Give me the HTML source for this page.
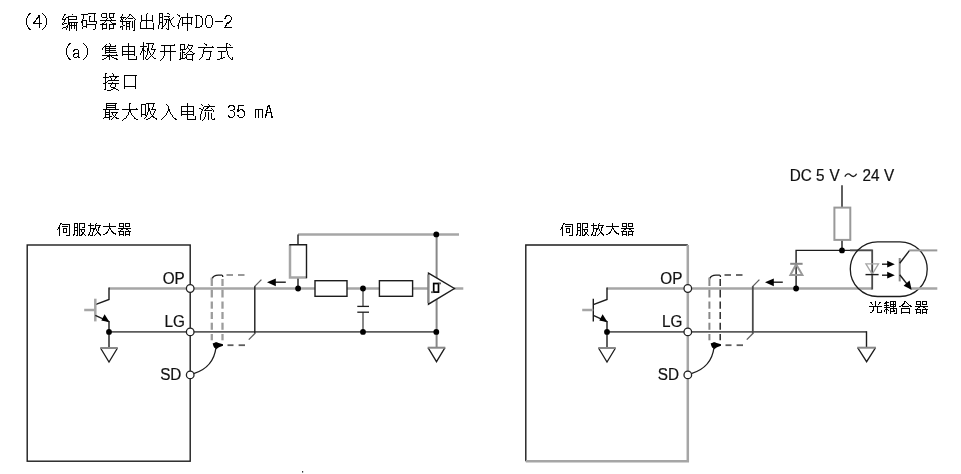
<!DOCTYPE html>
<html><head><meta charset="utf-8"><title>DO-2</title><style>
html,body{margin:0;padding:0;background:#fff}
svg{display:block}
.k{stroke:#1c1c1c;stroke-width:1.4;fill:none;stroke-linejoin:miter}
.g{stroke:#a6a6a6;stroke-width:2.5;fill:none}
.d{stroke:#5c5c5c;stroke-width:1.8;fill:none}
.thin{stroke-width:1.3}
.g2{stroke-width:2;stroke:#999}
.g3{stroke-width:2;stroke:#888}
.gd{stroke-width:2.3;stroke:#9c9c9c}
.d2{stroke:#4a4a4a;stroke-width:1.8;fill:none}
.f{fill:#000;stroke:none}
.w{fill:#fff;stroke:none}
.w2{fill:#fff}
.ring{fill:#fff;stroke:#222;stroke-width:1.3}
.t{font-family:"Liberation Sans",sans-serif;font-size:15px;fill:#111;stroke:#111;stroke-width:.2px}
.bm{fill:#000;stroke:none;shape-rendering:crispEdges}
</style></head><body>
<svg style="will-change:transform" width="961" height="474" viewBox="0 0 961 474">
<rect width="961" height="474" fill="#fff"/>
<defs><path id="b0" d="M3 -11h1v7h-1zM4 -13h1v2h-1zM4 -4h1v2h-1zM5 -14h1v1h-1zM5 -2h1v1h-1zM5 -15h2v1h-2zM5 -1h2v1h-2zM6 -16h2v1h-2zM6 0h2v1h-2z"/><path id="b1" d="M0 -7h2v1h-2zM0 -6h9v1h-9zM1 -8h2v1h-2zM2 -9h1v1h-1zM3 -10h1v1h-1zM3 -11h2v1h-2zM4 -12h3v1h-3zM5 -14h2v2h-2zM6 -11h1v5h-1zM6 -5h1v4h-1z"/><path id="b2" d="M2 -16h1v1h-1zM2 0h1v1h-1zM3 -15h1v1h-1zM3 -1h1v1h-1zM4 -14h1v1h-1zM4 -2h1v1h-1zM5 -13h1v2h-1zM5 -4h1v2h-1zM6 -11h1v7h-1z"/><path id="b3" d="M1 -14h5v1h-5zM1 -2h5v1h-5zM2 -13h1v11h-1zM6 -13h2v1h-2zM6 -3h2v1h-2zM7 -12h1v1h-1zM7 -4h1v1h-1zM8 -11h1v7h-1z"/><path id="b4" d="M1 -11h1v7h-1zM2 -13h1v2h-1zM2 -4h1v2h-1zM3 -14h4v1h-4zM3 -2h4v1h-4zM7 -13h1v2h-1zM7 -4h1v2h-1zM8 -11h1v7h-1z"/><path id="b5" d="M1 -8h8v1h-8z"/><path id="b6" d="M1 -11h2v1h-2zM1 -2h8v1h-8zM2 -12h1v1h-1zM2 -3h1v1h-1zM2 -13h2v1h-2zM2 -4h2v1h-2zM3 -5h1v1h-1zM3 -6h3v1h-3zM3 -14h4v1h-4zM4 -7h3v1h-3zM6 -8h2v1h-2zM7 -13h1v1h-1zM7 -9h1v1h-1zM8 -12h1v3h-1z"/><path id="b7" d="M1 -11h1v1h-1zM1 -6h1v1h-1zM1 -1h1v1h-1zM1 -5h2v1h-2zM1 -10h4v1h-4zM2 -13h1v2h-1zM2 -7h1v1h-1zM2 -2h3v1h-3zM3 -14h1v1h-1zM3 -9h1v2h-1zM3 -15h2v1h-2zM3 -6h3v1h-3zM4 -11h1v1h-1zM5 -1h1v2h-1zM5 -3h2v1h-2zM5 -12h3v1h-3zM6 -4h1v1h-1zM6 -2h1v1h-1zM7 -11h1v1h-1zM7 -9h1v2h-1zM7 -6h2v2h-2zM7 -13h9v1h-9zM7 -10h9v1h-9zM7 -7h10v1h-10zM8 -3h1v5h-1zM8 -4h8v1h-8zM10 -6h1v2h-1zM10 -3h1v3h-1zM11 -15h1v1h-1zM13 -6h1v2h-1zM13 -3h1v3h-1zM15 -12h1v2h-1zM15 -6h1v2h-1zM15 -3h1v5h-1z"/><path id="b8" d="M1 -8h2v2h-2zM1 -15h7v1h-7zM2 -10h1v1h-1zM2 -6h1v3h-1zM2 -2h1v2h-1zM2 -9h5v1h-5zM3 -14h1v4h-1zM3 -3h4v1h-4zM6 -8h1v3h-1zM6 -4h1v1h-1zM6 -2h1v1h-1zM6 -5h10v1h-10zM8 -16h8v1h-8zM9 -12h1v4h-1zM9 -13h2v1h-2zM9 -8h8v1h-8zM13 0h2v1h-2zM14 -15h1v7h-1zM15 -4h1v4h-1zM16 -7h1v2h-1z"/><path id="b9" d="M1 -5h7v1h-7zM1 -9h16v1h-16zM2 -15h1v3h-1zM3 -4h1v3h-1zM3 0h1v1h-1zM3 -6h2v1h-2zM3 -16h5v1h-5zM3 -12h5v1h-5zM3 -1h5v1h-5zM5 -7h1v1h-1zM6 -8h1v1h-1zM7 -15h1v3h-1zM7 -10h1v1h-1zM7 -6h1v1h-1zM7 -4h1v3h-1zM8 -11h1v1h-1zM10 -15h1v3h-1zM10 -4h1v3h-1zM10 0h1v1h-1zM10 -12h5v1h-5zM10 -1h5v1h-5zM10 -16h6v1h-6zM10 -5h7v1h-7zM11 -11h1v1h-1zM11 -8h1v1h-1zM12 -10h1v1h-1zM12 -7h1v1h-1zM13 -6h4v1h-4zM14 -15h1v3h-1zM14 -4h1v3h-1z"/><path id="b10" d="M1 -9h1v1h-1zM1 -2h1v1h-1zM1 -3h3v1h-3zM1 -12h6v1h-6zM1 -8h11v1h-11zM2 -13h1v1h-1zM2 -11h1v1h-1zM2 -10h2v1h-2zM3 -15h1v2h-1zM3 -9h1v1h-1zM3 -7h1v3h-1zM3 -2h1v3h-1zM4 -11h1v1h-1zM4 -4h2v1h-2zM6 -10h1v1h-1zM7 -11h1v1h-1zM7 -7h1v1h-1zM7 -5h1v2h-1zM7 -2h1v3h-1zM7 -6h4v1h-4zM7 -3h4v1h-4zM8 -12h1v1h-1zM9 -13h1v1h-1zM9 -11h5v1h-5zM10 -14h1v1h-1zM10 -7h1v1h-1zM10 -5h1v2h-1zM10 -2h1v3h-1zM10 -15h2v1h-2zM12 -14h1v1h-1zM13 -13h1v1h-1zM13 -8h1v7h-1zM14 -12h1v1h-1zM14 1h2v1h-2zM15 -11h1v1h-1zM15 -9h1v10h-1zM16 -10h1v1h-1z"/><path id="b11" d="M2 -7h1v6h-1zM2 -1h14v1h-14zM3 -14h1v5h-1zM3 -8h1v1h-1zM3 -9h12v1h-12zM8 -15h1v6h-1zM8 -8h1v7h-1zM9 -16h1v1h-1zM14 -14h1v5h-1zM14 -8h1v1h-1zM15 -6h1v5h-1zM15 0h1v1h-1z"/><path id="b12" d="M1 -4h1v4h-1zM2 -15h1v3h-1zM2 -11h1v4h-1zM2 -6h1v2h-1zM2 -16h4v1h-4zM2 -12h4v1h-4zM2 -7h4v1h-4zM4 -1h2v1h-2zM5 -15h1v3h-1zM5 -11h1v4h-1zM5 -6h1v3h-1zM5 -2h1v1h-1zM5 -3h2v1h-2zM7 -4h1v1h-1zM7 -13h6v1h-6zM7 -10h6v1h-6zM8 -6h1v2h-1zM9 -9h1v3h-1zM9 -1h1v1h-1zM10 -16h2v1h-2zM10 0h2v1h-2zM11 -12h1v1h-1zM11 -8h1v8h-1zM11 -9h3v1h-3zM12 -15h1v1h-1zM12 -11h1v1h-1zM13 -8h1v2h-1zM14 -10h1v1h-1zM14 -6h1v2h-1zM15 -11h1v1h-1zM15 -4h1v1h-1zM16 -12h1v1h-1zM16 -3h2v1h-2z"/><path id="b13" d="M1 -15h1v1h-1zM1 -4h2v1h-2zM2 -6h1v2h-1zM2 -3h1v3h-1zM2 -14h2v1h-2zM3 -13h1v1h-1zM3 -9h1v3h-1zM4 -11h1v2h-1zM5 -12h12v1h-12zM6 -11h1v5h-1zM6 -5h1v2h-1zM6 -6h10v1h-10zM11 -16h1v4h-1zM11 -11h1v5h-1zM11 -5h1v7h-1zM15 -11h1v5h-1zM15 -5h1v1h-1z"/><path id="b14" d="M2 -8h1v1h-1zM2 -4h1v2h-1zM2 -9h2v1h-2zM2 -5h2v1h-2zM3 -2h3v1h-3zM3 -10h4v1h-4zM3 -6h5v1h-5zM6 -3h2v1h-2zM7 -9h1v3h-1zM7 -5h1v2h-1zM7 -2h2v1h-2z"/><path id="b15" d="M1 -11h1v2h-1zM1 0h2v1h-2zM1 -4h16v1h-16zM2 -12h1v1h-1zM3 -1h2v1h-2zM3 -13h12v1h-12zM4 -14h1v1h-1zM4 -12h1v1h-1zM4 -10h1v1h-1zM4 -8h1v1h-1zM4 -6h1v1h-1zM4 -11h11v1h-11zM4 -9h11v1h-11zM4 -7h12v1h-12zM5 -15h1v1h-1zM5 -2h1v1h-1zM6 -3h3v1h-3zM8 -16h1v1h-1zM8 -12h1v1h-1zM8 -10h1v1h-1zM8 -8h1v1h-1zM8 -5h1v1h-1zM8 -2h1v3h-1zM9 -15h1v2h-1zM10 -3h1v1h-1zM11 -2h2v1h-2zM13 -1h3v1h-3zM14 -14h1v1h-1zM15 -5h1v1h-1zM15 0h2v1h-2z"/><path id="b16" d="M2 -12h1v4h-1zM2 -7h1v2h-1zM2 -4h1v1h-1zM2 -13h13v1h-13zM2 -8h13v1h-13zM2 -5h13v1h-13zM8 -16h1v3h-1zM8 -12h1v4h-1zM8 -7h1v2h-1zM8 -4h1v4h-1zM8 0h9v1h-9zM14 -12h1v4h-1zM14 -7h1v2h-1zM14 -4h1v1h-1zM16 -3h1v3h-1z"/><path id="b17" d="M1 -6h1v2h-1zM1 -13h7v1h-7zM2 -8h1v2h-1zM3 -11h2v2h-2zM3 -9h3v1h-3zM4 -17h1v4h-1zM4 -12h1v1h-1zM4 -8h1v9h-1zM6 -8h1v1h-1zM6 -2h1v2h-1zM7 -4h1v2h-1zM7 0h2v1h-2zM7 -16h8v1h-8zM8 -8h1v4h-1zM8 -11h2v3h-2zM9 -15h1v4h-1zM9 -1h1v1h-1zM10 -8h1v2h-1zM10 -2h1v1h-1zM11 -6h1v2h-1zM11 -3h1v1h-1zM12 -11h1v1h-1zM12 -4h1v1h-1zM12 -10h5v1h-5zM13 -14h1v3h-1zM13 -5h1v1h-1zM13 -3h1v1h-1zM14 -15h1v1h-1zM14 -7h1v2h-1zM14 -2h1v1h-1zM15 -9h1v2h-1zM15 -1h2v1h-2z"/><path id="b18" d="M1 1h1v1h-1zM1 -8h16v1h-16zM2 0h1v1h-1zM2 -14h14v1h-14zM3 -1h1v1h-1zM4 -3h1v2h-1zM5 -13h1v5h-1zM5 -7h1v4h-1zM11 -13h1v5h-1zM11 -7h1v9h-1zM15 -15h1v1h-1z"/><path id="b19" d="M1 0h2v1h-2zM2 -14h1v4h-1zM2 -9h1v1h-1zM2 -7h1v6h-1zM2 -15h5v1h-5zM2 -1h5v1h-5zM2 -10h6v1h-6zM4 -9h1v2h-1zM4 -6h1v5h-1zM4 -7h3v1h-3zM6 -14h1v4h-1zM6 -5h2v1h-2zM7 -2h2v1h-2zM8 -11h1v1h-1zM8 -6h1v1h-1zM8 -4h1v2h-1zM8 -1h1v1h-1zM9 -13h1v2h-1zM9 -7h1v1h-1zM9 0h6v1h-6zM9 -5h7v1h-7zM10 -15h1v1h-1zM10 -11h1v1h-1zM10 -8h1v1h-1zM10 -14h5v1h-5zM11 -9h1v1h-1zM11 -10h2v1h-2zM12 -8h2v1h-2zM13 -12h1v2h-1zM14 -13h1v1h-1zM14 -7h1v1h-1zM14 -4h1v4h-1zM14 1h1v1h-1zM15 -6h2v1h-2z"/><path id="b20" d="M1 -12h16v1h-16zM2 0h1v1h-1zM3 -1h1v1h-1zM4 -2h1v1h-1zM5 -5h1v3h-1zM6 -10h1v2h-1zM6 -7h1v2h-1zM6 -8h9v1h-9zM7 -16h1v1h-1zM7 -11h1v1h-1zM8 -15h2v1h-2zM9 -14h1v1h-1zM9 0h4v1h-4zM12 -2h1v2h-1zM13 -7h1v5h-1zM15 -13h1v1h-1z"/><path id="b21" d="M1 0h3v1h-3zM1 -12h16v1h-16zM2 -8h8v1h-8zM4 -1h3v1h-3zM5 -7h1v6h-1zM7 -2h2v1h-2zM10 -15h1v3h-1zM10 -11h1v3h-1zM10 -16h2v1h-2zM11 -8h1v4h-1zM12 -4h1v2h-1zM13 -15h1v1h-1zM13 -2h1v1h-1zM14 -14h1v1h-1zM14 -1h1v1h-1zM15 0h2v1h-2zM16 -2h1v2h-1z"/><path id="b22" d="M1 -6h3v1h-3zM1 -12h6v1h-6zM2 0h2v1h-2zM3 -15h1v3h-1zM3 -11h1v4h-1zM3 -5h1v5h-1zM3 -16h2v1h-2zM3 -7h2v1h-2zM5 -8h1v1h-1zM5 1h4v1h-4zM6 -9h11v1h-11zM6 -6h11v1h-11zM7 -13h10v1h-10zM8 -12h1v1h-1zM8 -4h1v2h-1zM9 -11h1v2h-1zM9 -5h1v1h-1zM9 0h2v1h-2zM9 -2h4v1h-4zM10 -16h1v1h-1zM10 -7h1v1h-1zM11 -15h1v2h-1zM11 -1h3v1h-3zM12 -10h1v1h-1zM13 -11h1v1h-1zM13 -5h1v3h-1zM13 -12h2v1h-2zM14 0h2v1h-2zM16 1h1v1h-1z"/><path id="b23" d="M3 -13h1v10h-1zM3 -2h1v2h-1zM3 -3h12v1h-12zM3 -14h13v1h-13zM14 -13h1v10h-1zM14 -2h1v2h-1z"/><path id="b24" d="M1 -1h1v1h-1zM1 -10h16v1h-16zM2 -2h6v1h-6zM3 -9h1v2h-1zM3 -6h1v1h-1zM3 -4h1v2h-1zM3 -7h5v1h-5zM3 -5h5v1h-5zM4 -15h1v1h-1zM4 -13h1v1h-1zM4 -11h1v1h-1zM4 -14h10v1h-10zM4 -12h10v1h-10zM4 -16h11v1h-11zM7 -9h1v2h-1zM7 -6h1v1h-1zM7 -4h1v1h-1zM7 -1h1v2h-1zM7 -3h3v1h-3zM9 0h1v1h-1zM9 -7h7v1h-7zM10 -6h1v2h-1zM10 -1h1v1h-1zM11 -4h1v1h-1zM11 -2h1v1h-1zM12 -3h1v1h-1zM13 -15h1v1h-1zM13 -13h1v1h-1zM13 -11h1v1h-1zM13 -5h1v2h-1zM13 -2h2v1h-2zM14 -6h1v1h-1zM14 -1h3v1h-3z"/><path id="b25" d="M1 1h1v1h-1zM1 -10h16v1h-16zM2 0h1v1h-1zM3 -1h2v1h-2zM5 -3h1v2h-1zM6 -4h1v1h-1zM7 -7h1v3h-1zM8 -15h1v5h-1zM8 -16h2v1h-2zM8 -9h2v2h-2zM9 -7h1v1h-1zM10 -6h1v2h-1zM11 -4h1v1h-1zM12 -3h1v1h-1zM13 -2h1v1h-1zM13 -1h2v1h-2zM15 -11h1v1h-1zM15 0h2v1h-2z"/><path id="b26" d="M1 -14h1v9h-1zM1 -4h1v2h-1zM1 -15h5v1h-5zM1 -5h5v1h-5zM4 -1h1v1h-1zM5 -14h1v9h-1zM5 -2h1v1h-1zM5 -4h2v1h-2zM6 -3h1v1h-1zM6 0h2v1h-2zM6 -16h9v1h-9zM7 -7h1v3h-1zM8 -15h1v4h-1zM8 -8h1v1h-1zM8 -11h2v3h-2zM8 -1h2v1h-2zM10 -8h1v3h-1zM10 -2h1v1h-1zM11 -5h1v1h-1zM11 -3h3v1h-3zM11 -10h5v1h-5zM12 -12h1v2h-1zM12 -4h1v1h-1zM13 -15h1v3h-1zM13 -6h1v2h-1zM13 -2h2v1h-2zM14 -8h1v2h-1zM15 -9h1v1h-1zM15 -1h2v1h-2zM16 0h1v1h-1z"/><path id="b27" d="M1 0h1v1h-1zM2 -1h1v1h-1zM3 -2h1v1h-1zM4 -3h1v1h-1zM5 -4h1v1h-1zM6 -15h1v1h-1zM6 -6h1v2h-1zM7 -14h1v1h-1zM7 -8h1v2h-1zM8 -13h1v3h-1zM8 -10h2v2h-2zM9 -8h1v1h-1zM10 -7h1v2h-1zM11 -5h1v1h-1zM12 -4h1v2h-1zM13 -2h1v1h-1zM14 -1h2v1h-2zM15 0h2v1h-2z"/><path id="b28" d="M1 -11h2v1h-2zM2 -5h1v6h-1zM3 -15h1v1h-1zM3 -8h1v3h-1zM3 -10h2v1h-2zM4 -14h1v1h-1zM4 -9h1v1h-1zM4 1h1v1h-1zM5 -12h1v2h-1zM5 0h1v1h-1zM6 -2h1v2h-1zM6 -9h8v1h-8zM6 -13h11v1h-11zM7 -10h1v1h-1zM7 -7h1v5h-1zM8 -11h2v1h-2zM9 -12h2v1h-2zM10 -15h1v1h-1zM10 -7h1v8h-1zM11 -14h1v1h-1zM13 -11h1v1h-1zM13 -6h1v6h-1zM14 -10h1v1h-1zM14 0h3v1h-3zM15 -9h1v2h-1zM16 -1h1v1h-1z"/><path id="b29" d="M1 -12h1v1h-1zM1 -4h1v1h-1zM1 -13h2v1h-2zM1 -3h2v1h-2zM2 -2h4v1h-4zM2 -14h5v1h-5zM3 -9h3v1h-3zM6 -8h1v1h-1zM6 -3h1v1h-1zM6 -13h2v1h-2zM6 -10h2v1h-2zM7 -12h1v2h-1zM7 -7h1v4h-1z"/><path id="b30" d="M1 -10h2v1h-2zM1 -8h2v1h-2zM1 -4h2v1h-2zM1 -9h3v1h-3zM2 -13h1v3h-1zM2 -3h1v1h-1zM2 -14h6v1h-6zM3 -2h4v1h-4zM4 -10h3v1h-3zM6 -9h2v1h-2zM7 -3h1v1h-1zM7 -8h2v1h-2zM8 -7h1v4h-1z"/><path id="b31" d="M1 -9h1v8h-1zM1 -10h8v1h-8zM4 -9h1v8h-1zM8 -9h1v8h-1z"/><path id="b32" d="M1 -3h1v2h-1zM1 -5h2v2h-2zM2 -8h1v1h-1zM2 -6h1v1h-1zM2 -9h2v1h-2zM2 -7h6v1h-6zM3 -12h1v3h-1zM3 -13h3v1h-3zM4 -14h2v1h-2zM5 -12h1v1h-1zM5 -11h2v1h-2zM6 -10h1v3h-1zM7 -6h1v3h-1zM7 -3h2v2h-2z"/><path id="b33" d="M0 -6h1v1h-1zM1 -8h2v2h-2zM2 -10h1v2h-1zM2 -6h1v7h-1zM3 -11h1v1h-1zM3 -12h2v1h-2zM5 -9h6v1h-6zM5 -11h8v1h-8zM6 -6h1v3h-1zM6 -7h4v1h-4zM6 -3h4v1h-4zM9 -6h1v3h-1zM9 0h4v1h-4zM12 -10h1v10h-1z"/><path id="b34" d="M1 0h1v1h-1zM1 -1h2v1h-2zM2 -11h1v3h-1zM2 -7h1v2h-1zM2 -4h1v3h-1zM2 -12h4v1h-4zM2 -8h4v1h-4zM2 -5h4v1h-4zM4 0h2v1h-2zM5 -11h1v3h-1zM5 -7h1v2h-1zM5 -4h1v4h-1zM7 -11h1v5h-1zM7 -5h1v5h-1zM7 0h3v1h-3zM7 -12h6v1h-6zM7 -6h6v1h-6zM9 -5h1v2h-1zM9 -1h2v1h-2zM10 -3h2v2h-2zM10 -8h3v1h-3zM12 -11h1v3h-1zM12 -5h1v2h-1zM12 -1h1v1h-1zM13 0h1v1h-1z"/><path id="b35" d="M1 0h1v1h-1zM1 -1h2v1h-2zM1 -10h6v1h-6zM2 -3h1v2h-1zM3 -12h1v2h-1zM3 -9h1v2h-1zM3 -6h1v3h-1zM3 0h3v1h-3zM3 -7h6v1h-6zM5 -3h1v3h-1zM6 -5h1v2h-1zM6 -6h2v1h-2zM7 0h1v1h-1zM8 -11h1v1h-1zM8 -9h1v2h-1zM8 -1h1v1h-1zM8 -10h6v1h-6zM9 -12h1v1h-1zM9 -6h1v2h-1zM9 -2h1v1h-1zM10 -4h1v1h-1zM10 -3h2v1h-2zM11 -7h1v3h-1zM11 -8h2v1h-2zM11 -2h2v1h-2zM12 -9h1v1h-1zM12 -1h2v1h-2zM13 0h1v1h-1z"/><path id="b36" d="M1 -1h2v1h-2zM1 -9h13v1h-13zM3 -2h2v1h-2zM4 -3h2v1h-2zM5 -4h1v1h-1zM6 -6h1v2h-1zM7 -12h1v3h-1zM7 -8h1v1h-1zM7 -7h2v1h-2zM8 -6h1v1h-1zM9 -5h1v1h-1zM9 -4h2v1h-2zM10 -3h2v1h-2zM11 -2h3v1h-3zM13 -1h1v1h-1z"/><path id="b37" d="M1 -4h6v1h-6zM1 -7h13v1h-13zM2 -11h1v2h-1zM2 -3h1v2h-1zM2 0h1v1h-1zM2 -12h5v1h-5zM2 -9h5v1h-5zM2 -1h5v1h-5zM3 -5h1v1h-1zM4 -6h2v1h-2zM6 -11h1v2h-1zM6 -8h1v1h-1zM6 -3h1v2h-1zM6 0h1v1h-1zM8 -11h1v2h-1zM8 -3h1v2h-1zM8 0h1v1h-1zM8 -12h5v1h-5zM8 -9h5v1h-5zM8 -1h5v1h-5zM8 -4h6v1h-6zM9 -6h2v1h-2zM11 -5h1v1h-1zM12 -11h1v2h-1zM12 -3h1v2h-1zM12 0h1v1h-1z"/><path id="b38" d="M1 -7h13v1h-13zM2 -11h2v1h-2zM2 -1h2v1h-2zM3 -10h1v1h-1zM4 -9h1v1h-1zM4 -2h1v1h-1zM4 -3h2v1h-2zM5 -6h1v3h-1zM7 -12h1v5h-1zM9 -6h1v5h-1zM9 -1h5v1h-5zM10 -9h1v1h-1zM11 -10h1v1h-1zM11 -11h2v1h-2zM13 -3h1v2h-1z"/><path id="b39" d="M1 -3h1v2h-1zM1 -10h3v1h-3zM1 -8h5v1h-5zM1 -6h6v1h-6zM2 -4h3v1h-3zM2 -11h4v1h-4zM3 -12h1v1h-1zM3 -9h1v1h-1zM3 -7h1v1h-1zM3 -5h1v1h-1zM3 -3h1v4h-1zM5 -3h1v1h-1zM7 -11h1v2h-1zM7 -8h1v1h-1zM7 -4h1v2h-1zM7 -1h1v2h-1zM7 -2h5v1h-5zM7 -12h6v1h-6zM7 -9h6v1h-6zM7 -7h6v1h-6zM7 -5h7v1h-7zM10 -11h1v2h-1zM10 -8h1v1h-1zM10 -6h1v1h-1zM10 -4h1v1h-1zM10 -3h2v1h-2zM11 0h3v1h-3zM12 -11h1v2h-1zM12 -8h1v1h-1zM13 -4h1v4h-1z"/><path id="b40" d="M1 -7h2v1h-2zM3 -4h1v3h-1zM3 0h1v1h-1zM3 -8h2v1h-2zM3 -5h9v1h-9zM3 -1h9v1h-9zM4 -9h2v1h-2zM4 -7h7v1h-7zM5 -10h2v1h-2zM6 -11h1v1h-1zM6 -12h2v1h-2zM8 -11h1v1h-1zM9 -10h1v1h-1zM10 -9h1v1h-1zM11 -4h1v3h-1zM11 0h1v1h-1zM11 -8h2v1h-2zM12 -7h2v1h-2z"/></defs>
<g class="bm"><title>(4) 编码器输出脉冲DO-2</title>
<use href="#b0" x="23" y="29"/>
<use href="#b1" x="33" y="29"/>
<use href="#b2" x="40" y="29"/>
<use href="#b3" x="194" y="29"/>
<use href="#b4" x="204" y="29"/>
<use href="#b5" x="214" y="29"/>
<use href="#b6" x="223" y="29"/>
<use href="#b7" x="61" y="29"/>
<use href="#b8" x="80" y="29"/>
<use href="#b9" x="99" y="29"/>
<use href="#b10" x="119" y="29"/>
<use href="#b11" x="138" y="29"/>
<use href="#b12" x="157" y="29"/>
<use href="#b13" x="176" y="29"/>
</g><g class="bm"><title>(a) 集电极开路方式</title>
<use href="#b0" x="63" y="59"/>
<use href="#b14" x="71" y="59"/>
<use href="#b2" x="81" y="59"/>
<use href="#b15" x="101" y="59"/>
<use href="#b16" x="120" y="59"/>
<use href="#b17" x="139" y="59"/>
<use href="#b18" x="159" y="59"/>
<use href="#b19" x="178" y="59"/>
<use href="#b20" x="197" y="59"/>
<use href="#b21" x="216" y="59"/>
</g><g class="bm"><title>接口</title>
<use href="#b22" x="102" y="89"/>
<use href="#b23" x="121" y="89"/>
</g><g class="bm"><title>最大吸入电流 35 mA</title>
<use href="#b24" x="102" y="119"/>
<use href="#b25" x="121" y="119"/>
<use href="#b26" x="140" y="119"/>
<use href="#b27" x="160" y="119"/>
<use href="#b16" x="179" y="119"/>
<use href="#b28" x="198" y="119"/>
<use href="#b29" x="227" y="119"/>
<use href="#b30" x="236" y="119"/>
<use href="#b31" x="254" y="119"/>
<use href="#b32" x="264" y="119"/>
</g>
<rect class="k" x="27.2" y="245" width="163" height="216.2" fill="none"/>
<g class="bm"><title>伺服放大器</title>
<use href="#b33" x="57" y="235"/>
<use href="#b34" x="72" y="235"/>
<use href="#b35" x="87" y="235"/>
<use href="#b36" x="102" y="235"/>
<use href="#b37" x="117" y="235"/>
</g>
<path class="g" d="M190.2 288.5L428.5 288.5"/>
<path class="g" d="M454.0 288.5L463.3 288.5"/>
<path class="g" d="M298.0 234.4L459.0 234.4"/>
<path class="g g3" d="M436.6 234.4L436.6 347.7"/>
<path class="d" d="M190.2 331.9L436.6 331.9"/>
<path class="g" d="M109.0 288.5L190.2 288.5"/>
<path class="k" d="M109.0 287.5L109.0 299.5L95.3 304.6"/>
<path class="g" d="M95.3 298.7L95.3 321.4"/>
<path class="g" d="M84.2 310.0L95.3 310.0"/>
<path class="k" d="M95.3 315.4L109.0 321.6"/>
<path class="f" d="M109.6 322.2L101.3 320.6L104.6 314.3Z"/>
<path class="k" d="M109.0 321.0L109.0 348.0"/>
<path class="d" d="M109.0 331.9L190.2 331.9"/>
<circle class="f" cx="109.0" cy="331.9" r="2.9"/>
<path class="k thin" d="M100.5 348.0L109.0 362.0L117.5 348.0"/>
<path class="g g3" d="M100.2 348.0L117.8 348.0"/>
<path class="g gd" d="M211.8 279.0L211.8 286.0"/>
<path class="g gd" d="M211.8 289.7L211.8 297.5"/>
<path class="g gd" d="M211.8 301.5L211.8 308.7"/>
<path class="g gd" d="M211.8 312.0L211.8 319.0"/>
<path class="g gd" d="M211.8 322.7L211.8 329.8"/>
<path class="g gd" d="M211.8 334.0L211.8 340.3"/>
<path class="g gd" d="M222.5 279.0L222.5 286.0"/>
<path class="g gd" d="M222.5 289.7L222.5 297.5"/>
<path class="g gd" d="M222.5 301.5L222.5 308.7"/>
<path class="g gd" d="M222.5 312.0L222.5 319.0"/>
<path class="g gd" d="M222.5 322.7L222.5 329.8"/>
<path class="g gd" d="M222.5 334.0L222.5 340.3"/>
<path class="g" d="M211.8 279.5L211.8 277.6"/>
<path class="k" d="M212.4 278.2C213.4 275.6 215.8 275.1 218.3 275.1L221.9 275.1Q222.8 275.1 222.8 277"/>
<path class="g g2" d="M226.5 275.0L233.0 275.0"/>
<path class="g g2" d="M238.0 275.0L244.5 275.0"/>
<path class="d" d="M227.5 345.2L233.5 345.2"/>
<path class="d" d="M238.6 345.2L245.0 345.2"/>
<circle class="f" cx="216.4" cy="345.3" r="2.7"/>
<path class="f" d="M212.6 343.4L216.0 342.3L223.0 344.3L223.0 345.7L218.4 347.6L216.4 349.2L214.0 347.2Z"/>
<path class="k thin" d="M216.0 347.5Q213.5 367.5 193.7 373.6"/>
<path class="k" d="M254.8 286.0L254.8 333.8"/>
<path class="d thin" d="M261.4 279.6L254.5 286.6"/>
<path class="d thin" d="M255.1 333.2L248.8 339.6"/>
<path class="k" d="M274.5 282.2L285.8 282.2"/>
<path class="f" d="M267.0 282.2L275.8 278.4L275.8 286.2Z"/>
<circle class="ring" cx="190.2" cy="288.5" r="3.8"/>
<circle class="ring" cx="190.2" cy="331.9" r="3.8"/>
<circle class="ring" cx="190.2" cy="374.9" r="3.8"/>
<text class="t" text-anchor="end" transform="translate(184.8,284.1) scale(1.02,1.04)">OP</text>
<text class="t" text-anchor="end" transform="translate(184.8,327.0) scale(1.02,1.04)">LG</text>
<text class="t" text-anchor="end" transform="translate(181.4,380.0) scale(1.02,1.04)">SD</text>
<path class="k" d="M298.0 234.4L298.0 245.0"/>
<path class="k" d="M298.0 277.5L298.0 288.5"/>
<rect class="w" x="290" y="244.7" width="16.5" height="32.9"/>
<path class="g" d="M290.0 244.7L290.0 277.6L306.5 277.6"/>
<path class="k" d="M289.3 244.7L306.5 244.7L306.5 278.3"/>
<circle class="f" cx="298.1" cy="288.5" r="2.9"/>
<rect class="k w2" x="315.0" y="280.7" width="32.0" height="15.6"/>
<rect class="k w2" x="379.4" y="280.7" width="33.2" height="15.6"/>
<path class="g g3" d="M363.0 288.5L363.0 306.4"/>
<path class="g g3" d="M363.0 312.2L363.0 331.9"/>
<path class="k thin" d="M357.3 306.4L369.0 306.4"/>
<path class="k thin" d="M357.3 312.2L369.0 312.2"/>
<circle class="f" cx="363.0" cy="288.5" r="2.9"/>
<circle class="f" cx="363.0" cy="331.9" r="2.9"/>
<path class="k w2" d="M428.5 273.2L454.4 288.5L428.5 304.2Z"/>
<path class="g g3" d="M428.3 274.5L428.3 303.0"/>
<rect class="k" style="stroke-width:1.7;stroke:#000" fill="none" x="433.7" y="283.5" width="4.8" height="8.6"/>
<path class="d" d="M431.0 292.2L433.6 292.2"/>
<path class="d" d="M438.6 283.4L441.0 283.4"/>
<circle class="f" cx="436.3" cy="234.4" r="2.9"/>
<circle class="f" cx="436.3" cy="331.9" r="2.9"/>
<path class="k thin" d="M428.0 347.7L436.5 361.7L445.0 347.7"/>
<path class="g g3" d="M427.7 347.7L445.3 347.7"/>
<rect x="302" y="471" width="1.2" height="1.6" fill="#333"/>
<path class="k" d="M525.8 461.2L525.8 245.0L687.8 245.0"/>
<path class="g" d="M525.8 461.2L687.8 461.2L687.8 245.0"/>
<g class="bm"><title>伺服放大器</title>
<use href="#b33" x="560" y="235"/>
<use href="#b34" x="575" y="235"/>
<use href="#b35" x="590" y="235"/>
<use href="#b36" x="605" y="235"/>
<use href="#b37" x="620" y="235"/>
</g>
<path class="g" d="M687.8 288.5L872.2 288.5"/>
<path class="d" d="M687.8 331.9L866.5 331.9"/>
<path class="g" d="M607.0 288.5L687.8 288.5"/>
<path class="k" d="M607.0 287.5L607.0 299.5L593.3 304.6"/>
<path class="k" d="M593.3 298.7L593.3 321.4"/>
<path class="g" d="M582.2 310.0L593.3 310.0"/>
<path class="k" d="M593.3 315.4L607.0 321.6"/>
<path class="f" d="M607.6 322.2L599.3 320.6L602.6 314.3Z"/>
<path class="k" d="M607.0 321.0L607.0 348.0"/>
<path class="d" d="M607.0 331.9L687.8 331.9"/>
<circle class="f" cx="607.0" cy="331.9" r="2.9"/>
<path class="k thin" d="M598.5 348.0L607.0 362.0L615.5 348.0"/>
<path class="g g3" d="M598.2 348.0L615.8 348.0"/>
<path class="g g3" d="M709.4 279.0L709.4 286.0"/>
<path class="g g3" d="M709.4 289.7L709.4 297.5"/>
<path class="g g3" d="M709.4 301.5L709.4 308.7"/>
<path class="g g3" d="M709.4 312.0L709.4 319.0"/>
<path class="g g3" d="M709.4 322.7L709.4 329.8"/>
<path class="g g3" d="M709.4 334.0L709.4 340.3"/>
<path class="k" d="M720.2 279.0L720.2 286.0"/>
<path class="k" d="M720.2 289.7L720.2 297.5"/>
<path class="k" d="M720.2 301.5L720.2 308.7"/>
<path class="k" d="M720.2 312.0L720.2 319.0"/>
<path class="k" d="M720.2 322.7L720.2 329.8"/>
<path class="k" d="M720.2 334.0L720.2 340.3"/>
<path class="g" d="M709.4 279.5L709.4 277.6"/>
<path class="k" d="M710.0 278.2C711.0 275.6 713.4 275.1 715.9 275.1L719.6 275.1Q720.5 275.1 720.5 277"/>
<path class="d" d="M724.5 275.0L731.0 275.0"/>
<path class="d" d="M736.0 275.0L742.5 275.0"/>
<path class="d" d="M725.5 345.2L731.5 345.2"/>
<path class="d" d="M736.6 345.2L743.0 345.2"/>
<circle class="f" cx="714.4" cy="345.3" r="2.7"/>
<path class="f" d="M710.6 343.4L714.0 342.3L721.0 344.3L721.0 345.7L716.4 347.6L714.4 349.2L712.0 347.2Z"/>
<path class="k thin" d="M714.0 347.5Q711.5 367.5 691.3 373.6"/>
<path class="d2" d="M752.8 286.0L752.8 333.8"/>
<path class="d thin" d="M759.4 279.6L752.5 286.6"/>
<path class="d thin" d="M753.1 333.2L746.8 339.6"/>
<path class="k" d="M772.5 282.2L782.8 282.2"/>
<path class="f" d="M765.0 282.2L773.8 278.4L773.8 286.2Z"/>
<circle class="ring" cx="687.8" cy="288.5" r="3.8"/>
<circle class="ring" cx="687.8" cy="331.9" r="3.8"/>
<circle class="ring" cx="687.8" cy="374.9" r="3.8"/>
<text class="t" text-anchor="end" transform="translate(682.4,284.1) scale(1.02,1.04)">OP</text>
<text class="t" text-anchor="end" transform="translate(682.4,327.0) scale(1.02,1.04)">LG</text>
<text class="t" text-anchor="end" transform="translate(679.0,380.0) scale(1.02,1.04)">SD</text>
<path class="k" d="M866.5 331.2L866.5 347.7"/>
<path class="k thin" d="M857.6 347.7L866.6 361.7L875.6 347.7"/>
<path class="g g3" d="M857.3 347.7L875.9 347.7"/>
<path class="k" d="M796.1 288.5L796.1 250.4L872.2 250.4"/>
<path class="d2" d="M850.0 250.4L872.2 250.4L872.2 289.5"/>
<path class="g g2" d="M790.4 275.0L796.1 264.2L802.4 275.0Z"/>
<path class="g g3" d="M790.2 263.8L802.6 263.8"/>
<circle class="f" cx="796.1" cy="288.5" r="2.9"/>
<path class="k" d="M842.0 185.3L842.0 207.6"/>
<path class="k" d="M842.0 239.9L842.0 250.4"/>
<rect class="g w2 g2" x="834.4" y="207.6" width="15.9" height="32.3"/>
<circle class="f" cx="842.0" cy="250.4" r="2.9"/>
<text class="t" transform="translate(789.8,181.0) scale(1.02,1.04)">DC</text>
<text class="t" transform="translate(815.9,181.0) scale(1.02,1.04)">5</text>
<text class="t" transform="translate(829.4,181.0) scale(1.02,1.04)">V</text>
<path class="k thin" d="M844.8 176.6C846.6 173.2 849 173.4 850.8 175.2S855 177.2 856.6 173.8"/>
<text class="t" transform="translate(862.4,181.0) scale(1.02,1.04)">24</text>
<text class="t" transform="translate(883.9,181.0) scale(1.02,1.04)">V</text>
<rect class="k thin" fill="none" x="850.3" y="241.8" width="76.9" height="54.7" rx="27.3"/>
<path class="g thin" d="M865.9 263.8L872.2 274.2L878.5 263.8Z"/>
<path class="k" d="M865.5 274.6L878.6 274.6"/>
<path class="k" d="M882.0 264.2L889.0 264.2"/>
<path class="f" d="M894.8 264.2L887.2 260.8L887.2 267.6Z"/>
<path class="k" d="M882.0 275.2L889.0 275.2"/>
<path class="f" d="M894.8 275.2L887.2 271.8L887.2 278.6Z"/>
<path class="g g3" d="M899.7 258.0L899.7 281.4"/>
<path class="k" d="M899.7 263.2L909.6 250.4"/>
<path class="g g2" d="M909.2 250.4L937.3 250.4"/>
<path class="k" d="M899.7 274.8L910.6 288.5"/>
<path class="g" d="M910.0 288.5L937.3 288.5"/>
<path class="f" d="M911.6 289.8L903.6 285.8L909.6 280.6Z"/>
<g class="bm"><title>光耦合器</title>
<use href="#b38" x="868" y="313"/>
<use href="#b39" x="883" y="313"/>
<use href="#b40" x="898" y="313"/>
<use href="#b37" x="914" y="313"/>
</g>
</svg>
</body></html>
